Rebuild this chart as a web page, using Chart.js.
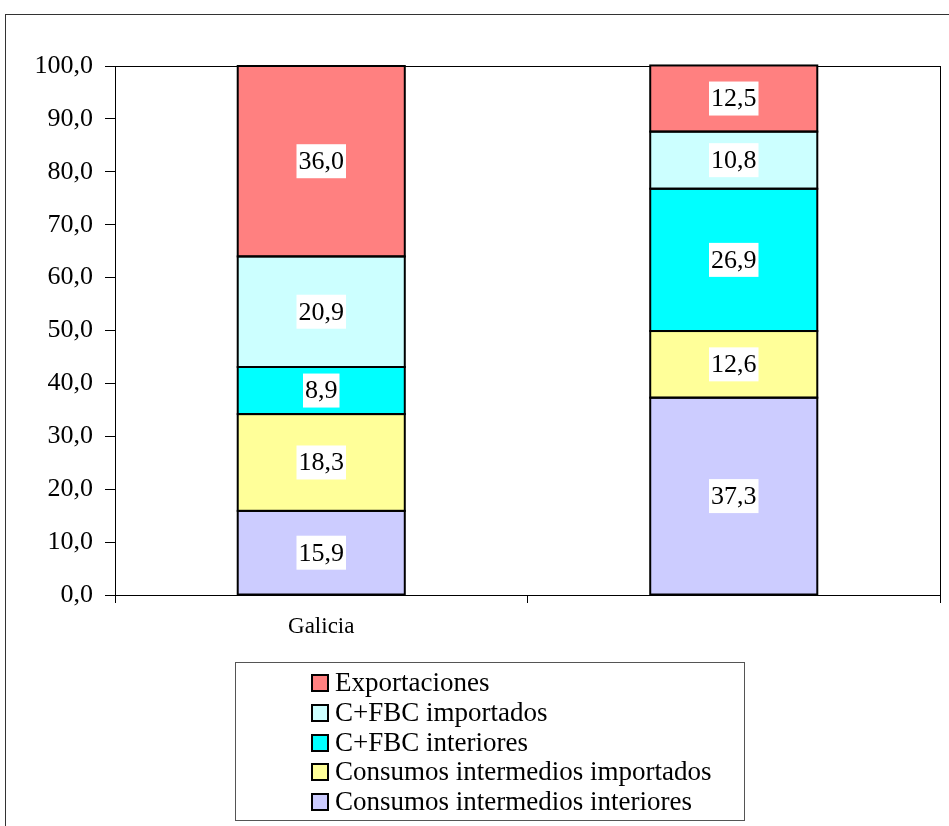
<!DOCTYPE html>
<html lang="es">
<head>
  <meta charset="UTF-8">
  <title>Galicia - estructura</title>
  <script src="https://cdn.jsdelivr.net/npm/chart.js"></script>
  <style>
    body {
      margin: 0;
      padding: 0;
      background: #fff;
      width: 949px;
      height: 826px;
      overflow: hidden;
      position: relative;
      font-family: "Liberation Serif", "Times New Roman", serif;
    }
    .marco {
      position: absolute;
      left: 5px;
      top: 14px;
      width: 980px;
      height: 860px;
      border: 1px solid #333;
    }
    #grafico {
      position: absolute;
      left: 0;
      top: 0;
    }
    .leyenda {
      position: absolute;
      left: 235px;
      top: 662px;
      width: 510px;
      height: 159px;
      border: 1px solid #555;
      box-sizing: border-box;
      padding: 5px 0 0 75px;
      font-size: 27px;
      color: #000;
    }
    .leyenda div {
      height: 29.8px;
      line-height: 29.8px;
      white-space: nowrap;
    }
    .leyenda span {
      display: inline-block;
      box-sizing: border-box;
      width: 18px;
      height: 18px;
      border: 2px solid #000;
      margin-right: 6px;
      vertical-align: -1px;
    }
  </style>
</head>
<body>

<div class="marco"></div>
<canvas id="grafico" width="949" height="826"></canvas>
<div class="leyenda" id="leyenda"></div>

<script>
  const categorias = ['Galicia', ''];
  const etiquetas = [
    'Consumos intermedios interiores',
    'Consumos intermedios importados',
    'C+FBC interiores',
    'C+FBC importados',
    'Exportaciones'
  ];
  const consumosInteriores = [15.9, 37.3];
  const consumosImportados = [18.3, 12.6];
  const fbcInteriores = [8.9, 26.9];
  const fbcImportados = [20.9, 10.8];
  const exportaciones = [36.0, 12.5];
  const colores = ['#CCCCFF', '#FFFF99', '#00FFFF', '#CCFFFF', '#FF8080'];

  const series = [consumosInteriores, consumosImportados, fbcInteriores, fbcImportados, exportaciones];
  const fmt = v => v.toFixed(1).replace('.', ',');
  const fuente = '"Liberation Serif", "Times New Roman", serif';

  // contorno negro de cada tramo y etiquetas de valor en cajas blancas
  const valores = {
    id: 'valores',
    afterDatasetsDraw(chart) {
      const ctx = chart.ctx;
      ctx.save();
      ctx.strokeStyle = '#000';
      ctx.lineWidth = 2;
      chart.data.datasets.forEach((ds, i) => {
        chart.getDatasetMeta(i).data.forEach(bar => {
          ctx.strokeRect(bar.x - bar.width / 2, bar.y, bar.width, bar.base - bar.y);
        });
      });
      ctx.font = '26px ' + fuente;
      ctx.textAlign = 'center';
      ctx.textBaseline = 'middle';
      chart.data.datasets.forEach((ds, i) => {
        chart.getDatasetMeta(i).data.forEach((bar, j) => {
          const txt = fmt(ds.data[j]);
          const cy = (bar.y + bar.base) / 2;
          const w = ctx.measureText(txt).width + 4;
          ctx.fillStyle = '#fff';
          ctx.fillRect(bar.x - w / 2, cy - 17, w, 34);
          ctx.fillStyle = '#000';
          ctx.fillText(txt, bar.x, cy + 1);
        });
      });
      ctx.restore();
    }
  };

  // borde del área de trazado
  const borde = {
    id: 'borde',
    beforeDatasetsDraw(chart) {
      const a = chart.chartArea;
      const ctx = chart.ctx;
      ctx.save();
      ctx.strokeStyle = '#000';
      ctx.lineWidth = 1;
      ctx.strokeRect(a.left + 0.5, a.top + 0.5, a.right - a.left, a.bottom - a.top);
      ctx.restore();
    }
  };

  new Chart(document.getElementById('grafico'), {
    type: 'bar',
    data: {
      labels: categorias,
      datasets: series.map((d, i) => ({
        label: etiquetas[i],
        data: d,
        backgroundColor: colores[i],
        borderWidth: 0,
        categoryPercentage: 1,
        barPercentage: 0.405
      }))
    },
    options: {
      responsive: false,
      animation: false,
      layout: {
        padding: { left: 0, top: 66, right: 9, bottom: 181 }
      },
      plugins: {
        legend: { display: false },
        tooltip: { enabled: false }
      },
      scales: {
        x: {
          stacked: true,
          afterFit: s => { s.height = 50; },
          grid: {
            offset: true,
            drawOnChartArea: false,
            drawTicks: true,
            tickLength: 8,
            color: '#000'
          },
          border: { display: true, color: '#000', width: 1 },
          ticks: {
            color: '#000',
            padding: 10,
            font: { family: fuente, size: 23 }
          }
        },
        y: {
          stacked: true,
          min: 0,
          max: 100,
          afterFit: s => { s.width = 115; },
          grid: {
            drawOnChartArea: false,
            drawTicks: true,
            tickLength: 10,
            color: '#000'
          },
          border: { display: true, color: '#000', width: 1 },
          ticks: {
            stepSize: 10,
            color: '#000',
            padding: 12,
            font: { family: fuente, size: 26 },
            callback: v => fmt(v)
          }
        }
      }
    },
    plugins: [borde, valores]
  });

  // leyenda en orden inverso, como la pila
  const leyenda = document.getElementById('leyenda');
  for (let i = etiquetas.length - 1; i >= 0; i--) {
    const fila = document.createElement('div');
    fila.innerHTML = `<span style="background:${colores[i]}"></span>${etiquetas[i]}`;
    leyenda.appendChild(fila);
  }
</script>

</body>
</html>
